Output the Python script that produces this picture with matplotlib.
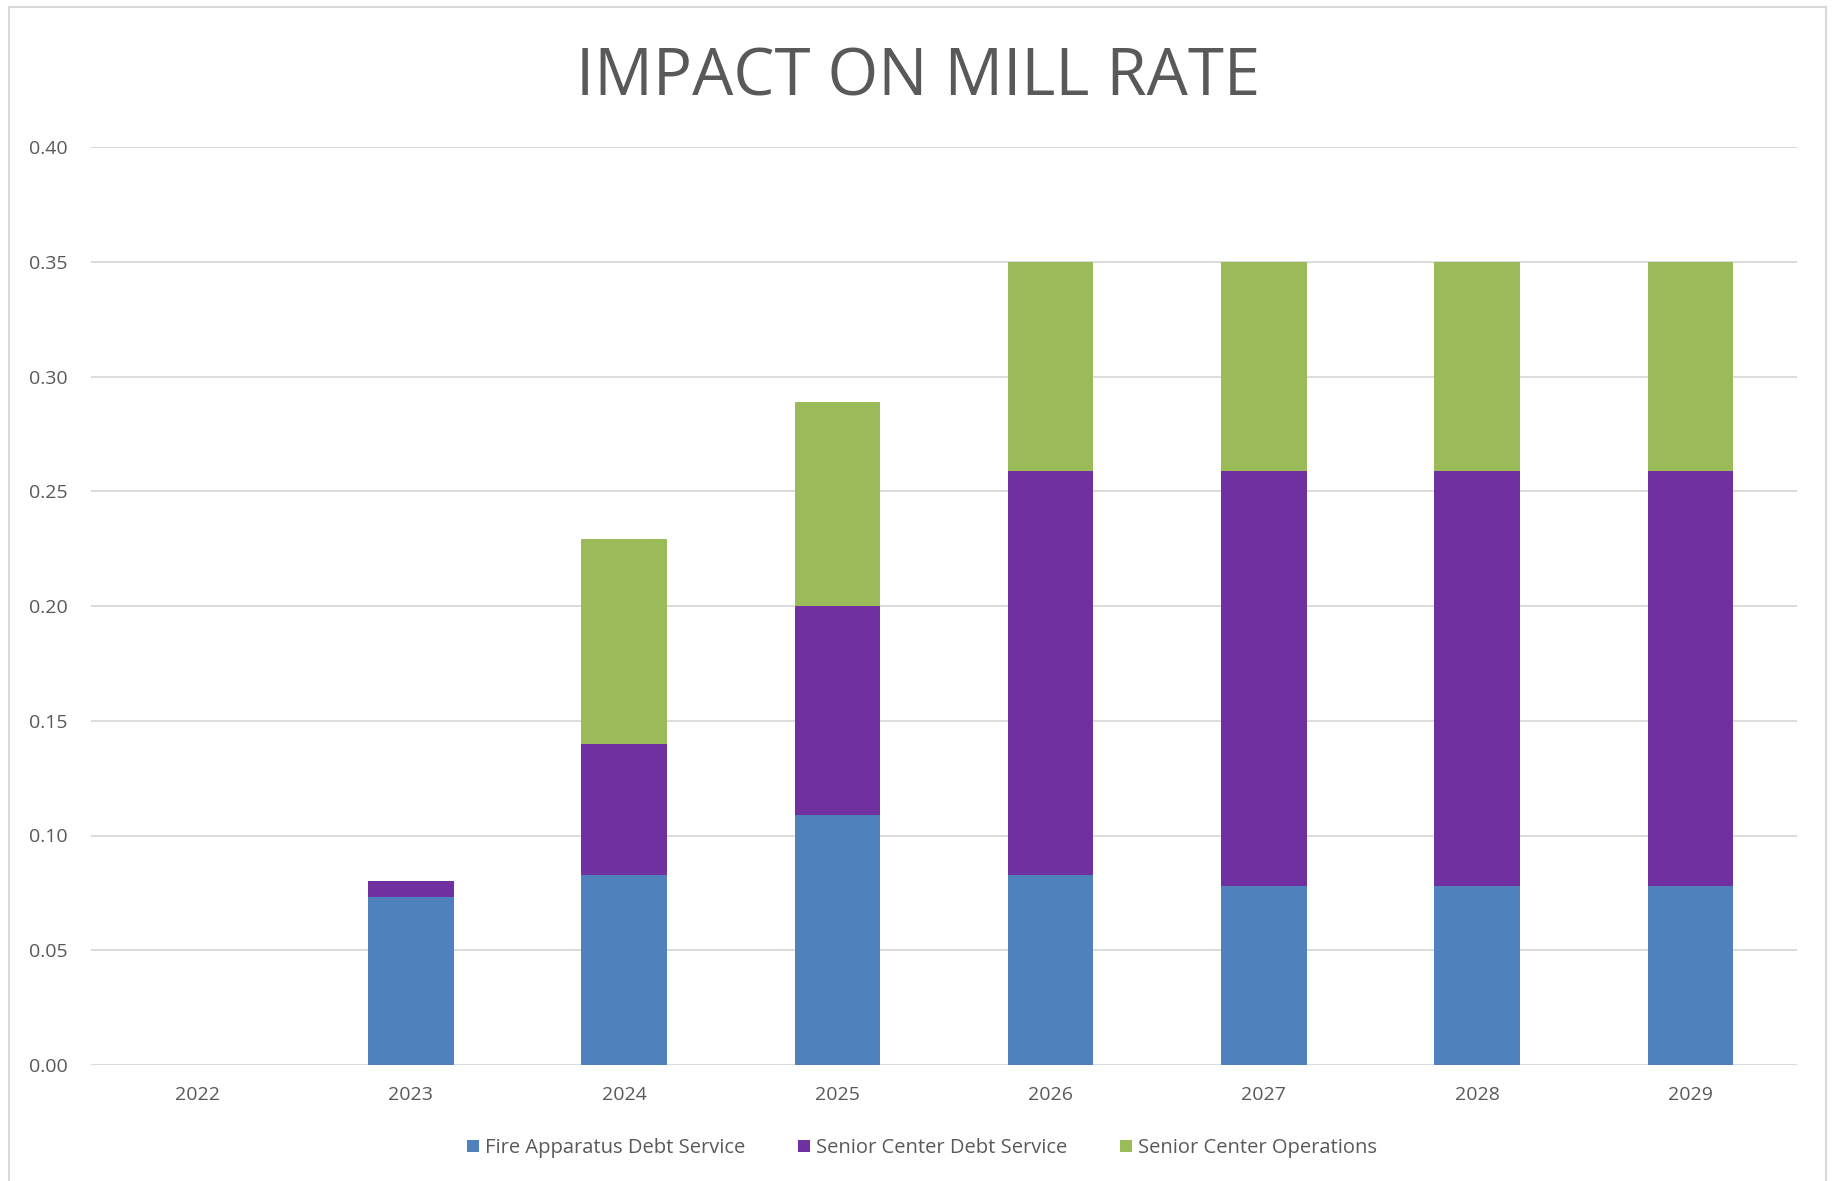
import numpy as np
import matplotlib
matplotlib.use("Agg")
import matplotlib.pyplot as plt
from matplotlib.lines import Line2D

# ── Data ───────────────────────────────────────────────────────────────────────
years        = ["2022", "2023", "2024", "2025", "2026", "2027", "2028", "2029"]
fire_debt    = [0.0, 0.073, 0.083, 0.109, 0.083, 0.078, 0.078, 0.078]
senior_debt  = [0.0, 0.007, 0.057, 0.091, 0.176, 0.181, 0.181, 0.181]
senior_ops   = [0.0, 0.0, 0.089, 0.089, 0.091, 0.091, 0.091, 0.091]
series_names = ["Fire Apparatus Debt Service", "Senior Center Debt Service",
                "Senior Center Operations"]
y_ticks      = [0.00, 0.05, 0.10, 0.15, 0.20, 0.25, 0.30, 0.35, 0.40]

# ── Style ──────────────────────────────────────────────────────────────────────
COLORS = ["#4F81BD", "#7030A0", "#9BBB59"]
TEXT   = "#595959"
GRID   = "#D9D9D9"
FONT   = ["Open Sans", "DejaVu Sans"]

W, H = 1833, 1181
fig = plt.figure(figsize=(W / 100, H / 100), dpi=100)
fig.patch.set_facecolor("white")

# axes placed in pixel terms: left 91, right 1797, top 147, bottom 1065
ax = fig.add_axes([91 / W, 1 - 1065 / H, (1797 - 91) / W, (1065 - 147) / H])

x = np.arange(len(years))
bottom = np.zeros(len(years))
handles = []
for vals, col, name in zip([fire_debt, senior_debt, senior_ops], COLORS, series_names):
    vals = np.array(vals)
    b = ax.bar(x, vals, width=0.4, bottom=bottom, color=col, label=name,
               zorder=3, linewidth=0)
    bottom += vals
    handles.append(b)

ax.set_xlim(-0.5, len(years) - 0.5)
ax.set_ylim(0, 0.40)
ax.set_yticks(y_ticks)
ax.set_yticklabels([f"{v:.2f}" for v in y_ticks])
ax.set_xticks(x)
ax.set_xticklabels(years)
ax.grid(axis="y", color=GRID, linewidth=1.3, zorder=0)
ax.set_axisbelow(True)
for s in ax.spines.values():
    s.set_visible(False)
ax.tick_params(axis="both", length=0, colors=TEXT, labelsize=14)
ax.tick_params(axis="y", pad=17)
ax.tick_params(axis="x", pad=15)
for lbl in ax.get_xticklabels() + ax.get_yticklabels():
    lbl.set_family(FONT)

fig.text(918 / W, 1 - 78 / H, "IMPACT ON MILL RATE", ha="center", va="center",
         fontsize=47, color=TEXT, family=FONT)

fig.legend(handles=handles, labels=series_names, loc="center",
           bbox_to_anchor=(922 / W, 1 - 1148 / H), ncol=3, frameon=False,
           prop={"family": FONT, "size": 14.5}, labelcolor=TEXT,
           handlelength=0.6, handleheight=0.6, handletextpad=0.3,
           columnspacing=2.6)

# outer chart border (bottom edge is cut off in the source)
bc = "#D9D9D9"
fig.add_artist(Line2D([9 / W, 9 / W], [0, 1 - 7 / H], transform=fig.transFigure,
                      color=bc, linewidth=1.5))
fig.add_artist(Line2D([9 / W, 1826 / W], [1 - 7 / H, 1 - 7 / H],
                      transform=fig.transFigure, color=bc, linewidth=1.5))
fig.add_artist(Line2D([1826 / W, 1826 / W], [0, 1 - 7 / H], transform=fig.transFigure,
                      color=bc, linewidth=1.5))

fig.savefig("out.png", dpi=100, facecolor="white")
